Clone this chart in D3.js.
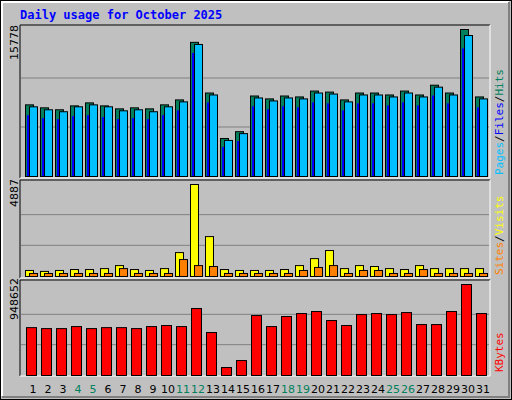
<!DOCTYPE html><html><head><script src="https://cdn.jsdelivr.net/npm/d3@7"></script>
<style>body{margin:0}</style></head><body><svg id="c" width="512" height="400"></svg>
<script>
const days=d3.range(1,32);
const weekend=[4,5,11,12,18,19,25,26];
const hits=[7690,7370,7160,7580,7900,7580,7260,7370,7260,7690,8220,14400,8960,4080,4810,8640,8330,8640,8540,9170,9060,8220,8960,8960,8750,9170,8750,9800,8960,15778,8540];
const files=[7480,7160,6950,7480,7690,7480,7050,7160,6950,7480,8010,14170,8750,3870,4600,8430,8110,8430,8330,8960,8850,8010,8750,8750,8540,8960,8540,9590,8750,15130,8330];
const pages=[6530,6210,6110,6420,6530,6320,6110,6210,6110,6530,7050,13200,7900,3120,3760,7480,7160,7480,7370,7900,7800,7050,7800,7800,7580,7900,7580,8640,7800,13700,7370];
const visits=[320,270,320,370,370,420,580,370,320,420,1270,4887,2120,370,320,320,320,370,580,950,1380,420,580,530,420,370,580,420,420,420,420];
const sites=[160,160,160,160,160,160,420,160,160,160,900,580,530,160,160,160,160,160,320,480,580,160,320,320,160,160,370,160,160,160,160];
const kbytes=[499000,489000,489000,510000,489000,499000,499000,489000,510000,521000,510000,698000,448000,83000,156000,625000,510000,615000,646000,667000,573000,521000,635000,646000,635000,656000,531000,531000,667000,948652,646000];
const svg=d3.select("#c");
svg.append("rect").attr("width",512).attr("height",400).attr("fill","#c0c0c0");
svg.append("rect").attr("x",0.5).attr("y",0.5).attr("width",511).attr("height",399).attr("fill","none").attr("stroke","#000");
svg.append("path").attr("d","M2,396V2H509").attr("stroke","#fff").attr("stroke-width",2).attr("fill","none");
svg.append("path").attr("d","M2,397H509V2").attr("stroke","#808080").attr("stroke-width",2).attr("fill","none");
svg.append("text").attr("x",20).attr("y",19).text("Daily usage for October 2025").attr("fill","#0000ff").attr("font-family","DejaVu Sans Mono").attr("font-weight","bold").attr("font-size",12);
const x=d3.scaleLinear().domain([1,31]).range([25,475]);
function panel(y0,y1){
  svg.append("path").attr("d",`M20,${y1}V${y0}H490`).attr("stroke","#000").attr("fill","none");
  svg.append("path").attr("d",`M20,${y1}H490V${y0}`).attr("stroke","#fff").attr("fill","none");
}
function grid(y,vals){vals.forEach(v=>svg.append("line").attr("x1",21).attr("x2",489).attr("y1",y(v)).attr("y2",y(v)).attr("stroke","#808080"));}
function bars(data,y,dx,w,col){
  svg.append("g").selectAll("rect").data(data).join("rect").attr("x",(d,i)=>x(days[i])+dx+0.5).attr("y",d=>y(d)+0.5).attr("width",w).attr("height",d=>y(0)-y(d)).attr("fill",col).attr("stroke","#000");
}
function ylab(t,yc){svg.append("text").attr("transform",`translate(18,${yc}) rotate(-90)`).attr("font-family","DejaVu Sans").attr("font-size",11).text(t);}
function rlab(parts,yb){const t=svg.append("text").attr("transform",`translate(503,${yb}) rotate(-90)`).attr("font-family","DejaVu Sans Mono").attr("font-size",11);
 parts.forEach(p=>t.append("tspan").attr("fill",p[1]).text(p[0]));}
// top
panel(25,178);
const y1=d3.scaleLinear().domain([0,15778]).range([176,29]);
grid(y1,[15778/3,15778*2/3]);
bars(hits,y1,0,8,"#00805c");
bars(files,y1,4,8,"#00c0ff");
svg.append("g").selectAll("rect").data(pages).join("rect").attr("x",(d,i)=>x(days[i])+2).attr("y",d=>y1(d)).attr("width",2).attr("height",d=>y1(0)-y1(d)).attr("fill","#0000ff");
ylab("15778",60);
rlab([["Pages","#00c0ff"],["/","#000"],["Files","#0000ff"],["/","#000"],["Hits","#00805c"]],175);
// middle
panel(180,278);
const y2=d3.scaleLinear().domain([0,4887]).range([276,184]);
grid(y2,[4887/3,4887*2/3]);
bars(visits,y2,0,8,"#ffff00");
bars(sites,y2,4,8,"#ff8000");
ylab("4887",207);
rlab([["Sites","#ff8000"],["/","#000"],["Visits","#ffff00"]],275);
// bottom
panel(280,376);
const y3=d3.scaleLinear().domain([0,948652]).range([375,284]);
grid(y3,[948652/3,948652*2/3]);
bars(kbytes,y3,1,10,"#ff0000");
ylab("948652",320);
rlab([["KBytes","#ff0000"]],372);
svg.append("g").selectAll("text").data(days).join("text").attr("x",d=>x(d)+8).attr("y",393).attr("text-anchor","middle").attr("font-family","DejaVu Sans").attr("font-size",11).attr("fill",d=>weekend.includes(d)?"#00805c":"#000").text(d=>d);
</script></body></html>
